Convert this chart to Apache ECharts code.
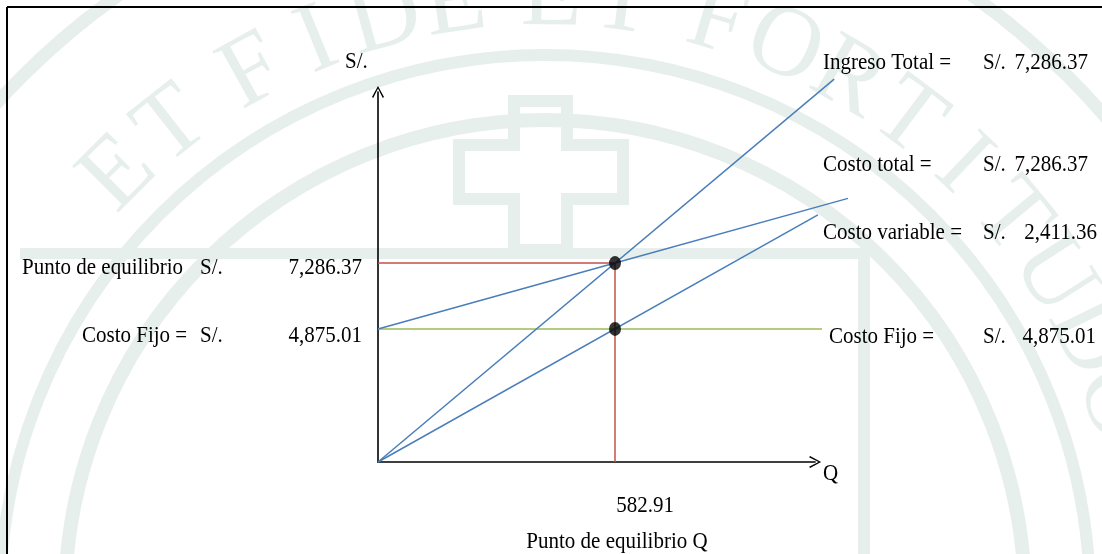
<!DOCTYPE html>
<html>
<head>
<meta charset="utf-8">
<script src="https://cdn.jsdelivr.net/npm/echarts@6/dist/echarts.min.js"></script>
<style>
  html, body { margin: 0; padding: 0; background: #ffffff; }
  #chart { width: 1102px; height: 554px; }
</style>
</head>
<body>
<div id="chart"></div>
<script>
// valores del punto de equilibrio (texto del gráfico)
const qEquilibrio = 582.91;
const sEquilibrio = 7286.37;
const costoFijoValor = 4875.01;
const costoVariableValor = 2411.36;
const ingresoTotalValor = 7286.37;
const costoTotalValor = 7286.37;

// rectas [Q, S/.] (extremos, esquemático)
const ingresoTotalLinea = [[0, 0], [1122, 14025]];
const costoTotalLinea = [[0, costoFijoValor], [qEquilibrio, sEquilibrio], [1156, 9657]];
const costoVariableLinea = [[0, 0], [1082, 9049]];
const costoFijoLinea = [[0, costoFijoValor], [1092, costoFijoValor]];
const equilibrioHorizontal = [[0, sEquilibrio], [qEquilibrio, sEquilibrio]];
const equilibrioVertical = [[qEquilibrio, sEquilibrio], [qEquilibrio, 0]];
const puntosEquilibrio = [[qEquilibrio, sEquilibrio], [qEquilibrio, costoFijoValor]];

// rango de los ejes dibujados (flechas) y del área de datos
const qMax = 1075;
const sMax = 13553;
const qDataMax = 1160;
const sDataMax = 14100;

// escala en px por unidad, origen en (378, 462)
const X0 = 378, Y0 = 462, KX = 237 / 582.91, KY = 0.0273;

const fmt = v => v.toLocaleString('en-US', { minimumFractionDigits: 2, maximumFractionDigits: 2 });

const FONT = '21px "Liberation Serif", "Times New Roman", serif';
const WM = '#e7efec'; // color de la marca de agua
const AZUL = '#4a7ebb';
const ROJO = '#c0504d';
const VERDE = '#9bbb59';

const chart = echarts.init(document.getElementById('chart'));

// marca de agua (sello) de fondo
const marca = [
  { type: 'circle', shape: { cx: 545, cy: 600, r: 740 }, style: { fill: 'none', stroke: WM, lineWidth: 13 } },
  { type: 'circle', shape: { cx: 545, cy: 600, r: 545 }, style: { fill: 'none', stroke: WM, lineWidth: 12 } },
  { type: 'circle', shape: { cx: 545, cy: 600, r: 480 }, style: { fill: 'none', stroke: WM, lineWidth: 14 } },
  {
    type: 'polygon',
    shape: { points: [[514, 101], [567, 101], [567, 145], [623, 145], [623, 199], [567, 199], [567, 250],
      [514, 250], [514, 199], [459, 199], [459, 145], [514, 145]] },
    style: { fill: 'none', stroke: WM, lineWidth: 12 }
  },
  { type: 'rect', shape: { x: 20, y: 248, width: 850, height: 11 }, style: { fill: WM } },
  { type: 'rect', shape: { x: 858, y: 248, width: 12, height: 306 }, style: { fill: WM } }
];
const lema = 'ET FIDE ET FORTITUDO';
let ang = -45;
for (const ch of lema) {
  if (ch !== ' ') {
    const rad = ang * Math.PI / 180;
    marca.push({
      type: 'text',
      x: 545 + 602 * Math.sin(rad),
      y: 600 - 602 * Math.cos(rad),
      rotation: -rad,
      style: { text: ch, font: '100px "Liberation Serif", serif', fill: WM, align: 'center', verticalAlign: 'middle' }
    });
    ang += 6.8;
  } else {
    ang += 2.4;
  }
}

// textos
const t = (text, x, y, align) => ({
  type: 'text', z: 100,
  x, y, scaleY: 1.12,
  style: { text, x: 0, y: 0, font: FONT, fill: '#000', align: align || 'left', verticalAlign: 'middle' }
});
const textos = [
  t('S/.', 345, 62),
  t('Q', 823, 474),
  t('Ingreso Total =', 823, 63),
  t('S/.', 983, 63),
  t(fmt(ingresoTotalValor), 1088, 63, 'right'),
  t('Costo total =', 823, 165),
  t('S/.', 983, 165),
  t(fmt(costoTotalValor), 1088, 165, 'right'),
  t('Costo variable =', 823, 233),
  t('S/.', 983, 233),
  t(fmt(costoVariableValor), 1097, 233, 'right'),
  t('Costo Fijo =', 829, 337),
  t('S/.', 983, 337),
  t(fmt(costoFijoValor), 1096, 337, 'right'),
  t('Punto de equilibrio', 22, 268),
  t('S/.', 200, 268),
  t(fmt(sEquilibrio), 362, 268, 'right'),
  t('Costo Fijo =', 82, 336),
  t('S/.', 200, 336),
  t(fmt(costoFijoValor), 362, 336, 'right'),
  t(fmt(qEquilibrio), 645, 506, 'center'),
  t('Punto de equilibrio Q', 617, 542, 'center')
];

// marco
const marco = [
  { type: 'line', z: 100, shape: { x1: 7, y1: 7, x2: 1102, y2: 7 }, style: { stroke: '#000', lineWidth: 2 } },
  { type: 'line', z: 100, shape: { x1: 7, y1: 7, x2: 7, y2: 554 }, style: { stroke: '#000', lineWidth: 2 } }
];

const flecha = 'path://M6,0 L12,11 L10.8,12 L6,2.6 L1.2,12 L0,11 Z';

const linea = (data, color, width) => ({
  type: 'line',
  data,
  symbol: 'none',
  clip: false,
  silent: true,
  z: 3,
  lineStyle: { color, width: width || 1.5 }
});

const ejeOculto = { show: false };
const ejeVisible = {
  axisLine: { show: true, onZero: false, symbol: ['none', flecha], symbolSize: [12, 13],
    lineStyle: { color: '#000', width: 1.6 } },
  axisTick: { show: false }, axisLabel: { show: false }, splitLine: { show: false }
};

const option = {
  animation: false,
  grid: [
    // área de datos (misma escala que los ejes, algo más amplia)
    { left: X0, bottom: 554 - Y0, width: qDataMax * KX, height: sDataMax * KY },
    // ejes con flechas
    { left: X0, bottom: 554 - Y0, width: qMax * KX, height: sMax * KY }
  ],
  xAxis: [
    { type: 'value', gridIndex: 0, min: 0, max: qDataMax, ...ejeOculto },
    { type: 'value', gridIndex: 1, min: 0, max: qMax, ...ejeVisible }
  ],
  yAxis: [
    { type: 'value', gridIndex: 0, min: 0, max: sDataMax, ...ejeOculto },
    { type: 'value', gridIndex: 1, min: 0, max: sMax, ...ejeVisible }
  ],
  graphic: [...marca, ...marco, ...textos],
  series: [
    linea(equilibrioHorizontal, ROJO),
    linea(equilibrioVertical, ROJO),
    linea(costoFijoLinea, VERDE),
    linea(ingresoTotalLinea, AZUL),
    linea(costoTotalLinea, AZUL),
    linea(costoVariableLinea, AZUL),
    {
      type: 'scatter',
      data: puntosEquilibrio,
      symbol: 'circle',
      symbolSize: [12, 14],
      silent: true,
      z: 5,
      itemStyle: { color: '#000' }
    }
  ]
};

chart.setOption(option);
</script>
</body>
</html>
